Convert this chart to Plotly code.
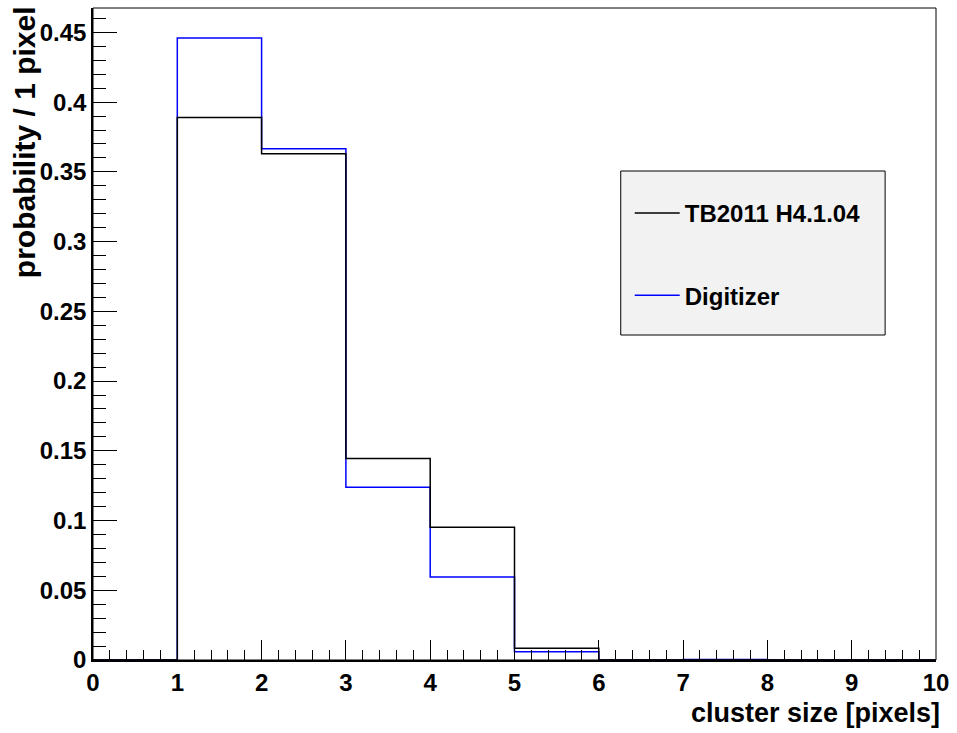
import plotly.graph_objects as go

# bin edges 0..10, one value per bin (cluster size)
bin_edges = [0, 1, 2, 3, 4, 5, 6, 7, 8, 9, 10]
tb2011 = [0.0, 0.389, 0.363, 0.1445, 0.0951, 0.0084, 0.0, 0.0, 0.0, 0.0]
digitizer = [0.0, 0.446, 0.3666, 0.1238, 0.0595, 0.006, 0.0, 0.0004, 0.0, 0.0]
ytick_vals = [0, 0.05, 0.1, 0.15, 0.2, 0.25, 0.3, 0.35, 0.4, 0.45]
ytick_text = ["0", "0.05", "0.1", "0.15", "0.2", "0.25", "0.3", "0.35", "0.4", "0.45"]
xtick_vals = [0, 1, 2, 3, 4, 5, 6, 7, 8, 9, 10]

FONT = "Liberation Sans, Arial, Helvetica, sans-serif"

W, H = 957, 733
L, R, T, B = 93, 19, 8, 73
PW, PH = W - L - R, H - T - B


def step(vals):
    return list(vals) + [vals[-1]]


fig = go.Figure()
# blue drawn first so the black histogram lies on top (as in the reference)
fig.add_trace(go.Scatter(
    x=bin_edges, y=step(digitizer), mode="lines", line_shape="hv",
    line=dict(color="#0000ff", width=1.5), name="Digitizer",
    legendgroup="b", legendrank=2))
fig.add_trace(go.Scatter(
    x=bin_edges, y=step(tb2011), mode="lines", line_shape="hv",
    line=dict(color="black", width=1.5), name="TB2011 H4.1.04",
    legendgroup="a", legendrank=1))

# legend frame
fig.add_shape(type="rect", xref="paper", yref="paper",
              x0=(622 - L) / PW, x1=(887 - L) / PW,
              y0=(H - B - 335) / PH, y1=(H - B - 171) / PH,
              line=dict(color="black", width=1), fillcolor="#f2f2f2", layer="below")
# plot frame
fig.add_shape(type="rect", xref="paper", yref="paper", x0=0, x1=1, y0=0, y1=1,
              line=dict(color="black", width=1), layer="above")

fig.add_annotation(text="probability / 1 pixel", textangle=-90,
                   xref="paper", yref="paper",
                   x=(24 - L) / PW, y=(H - B - 4) / PH,
                   xanchor="center", yanchor="top", showarrow=False,
                   font=dict(family=FONT, size=30, color="black", weight="bold"))
fig.add_annotation(text="cluster size [pixels]",
                   xref="paper", yref="paper",
                   x=(944 - L) / PW, y=(H - B - 713) / PH,
                   xanchor="right", yanchor="middle", showarrow=False,
                   font=dict(family=FONT, size=27, color="black", weight="bold"))

fig.update_layout(
    width=W, height=H,
    margin=dict(l=L, r=R, t=T, b=B),
    paper_bgcolor="white", plot_bgcolor="white",
    font=dict(family=FONT, color="black"),
    showlegend=True,
    legend=dict(x=(631 - L) / PW, y=(H - B - 191) / PH, xanchor="left", yanchor="top",
                bgcolor="rgba(0,0,0,0)", borderwidth=0,
                font=dict(family=FONT, size=24, color="black", weight="bold"),
                tracegroupgap=48, itemwidth=45),
    xaxis=dict(range=[0, 10], tickvals=xtick_vals, ticks="inside", ticklen=20,
               tickwidth=1, tickcolor="black", showgrid=False, zeroline=False,
               showline=True, linewidth=2, linecolor="black",
               tickfont=dict(family=FONT, size=24, color="black", weight="bold"),
               minor=dict(dtick=0.2, ticks="inside", ticklen=10, tickwidth=1,
                          tickcolor="black", showgrid=False)),
    yaxis=dict(range=[0, 0.4675], tickvals=ytick_vals, ticktext=ytick_text,
               ticks="inside", ticklen=24, tickwidth=1, tickcolor="black",
               showgrid=False, zeroline=False, showline=True, linewidth=1.5,
               linecolor="black",
               tickfont=dict(family=FONT, size=24, color="black", weight="bold"),
               minor=dict(dtick=0.01, ticks="inside", ticklen=13, tickwidth=1,
                          tickcolor="black", showgrid=False)),
)

fig.write_html("out.html", config={"displayModeBar": False},
               post_script="document.body.style.margin='0';document.body.style.overflow='hidden';")
